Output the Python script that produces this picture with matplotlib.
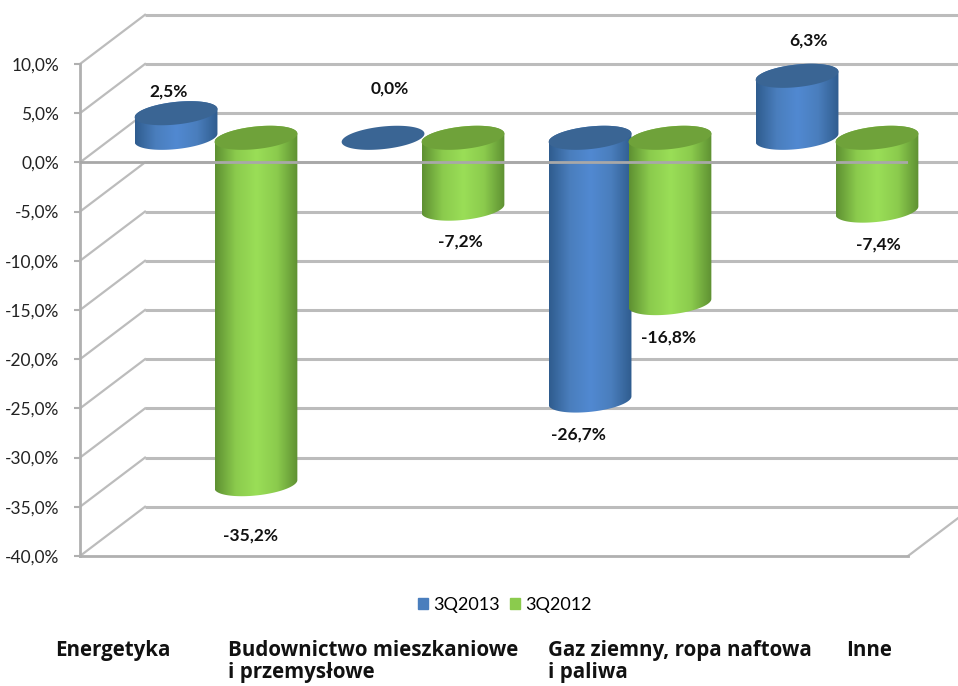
import numpy as np
from matplotlib import pyplot as plt
from matplotlib.patches import Patch, Polygon
from matplotlib.colors import LinearSegmentedColormap

plt.rcParams['font.family'] = ['Lato', 'DejaVu Sans']

categories = ["Energetyka", "Budownictwo mieszkaniowe\ni przemysłowe",
              "Gaz ziemny, ropa naftowa\ni paliwa", "Inne"]
series_names = ["3Q2013", "3Q2012"]
values_2013 = [2.5, 0.0, -26.7, 6.3]  # %
values_2012 = [-35.2, -7.2, -16.8, -7.4]  # %
y_ticks = [10, 5, 0, -5, -10, -15, -20, -25, -30, -35, -40]

# pixel spots of the free floating texts
label_px_2013 = [(169, 92), (390, 89), (578, 435), (808, 41)]
label_px_2012 = [(250, 536), (460, 242), (668, 338), (878, 245)]
category_px = [(55, 640), (228, 640), (548, 640), (846, 640)]

W, H = 958, 686
DEPTH_X, DEPTH_Y = 0.314, 5.0  # back wall shift in data units
BAR_R = 0.2
ELL_A, ELL_B = 0.42, 1.15  # tilt and height of the cylinder caps
OFFSET = 0.193

blue_map = LinearSegmentedColormap.from_list("b", ["#2f5c8e", "#4a7ebd", "#5189d1", "#4a7ebd", "#2f5c8e"])
green_map = LinearSegmentedColormap.from_list("g", ["#5e9032", "#8bcb4d", "#9ade57", "#8bcb4d", "#5e9032"])
BLUE_TOP, GREEN_TOP = "#3a6594", "#6fa23a"
GRID = "#bcbcbc"

fig = plt.figure(figsize=(W / 100, H / 100), dpi=100)
ax = fig.add_axes([80 / W, 1 - 556 / H, 828 / W, 492 / H])
ax.set_xlim(-0.5, 3.5)
ax.set_ylim(-40, 10)
ax.patch.set_visible(False)


def cap(cx, cy, t):
    # right end of the cap is higher than the left end
    return cx + BAR_R * np.cos(t), cy + ELL_A * np.cos(t) + ELL_B * np.sin(t)


def cylinder(x, value, cmap, top_color):
    # the bars stand half way into the depth of the chart
    cx = x + DEPTH_X / 2
    base = DEPTH_Y / 2
    end = base + value
    top, bottom = max(base, end), min(base, end)
    if value != 0:
        t = np.linspace(0, np.pi, 60)
        xb, yb = cap(cx, bottom, -t)
        xt, yt = cap(cx, top, t)
        pts = np.concatenate([np.column_stack([xb, yb]), np.column_stack([xt[::-1], yt[::-1]])])
        body = Polygon(pts, closed=True, fc="none", ec="none", clip_on=False)
        ax.add_patch(body)
        grad = np.linspace(0, 1, 256).reshape(1, -1)
        im = ax.imshow(grad, cmap=cmap, aspect="auto", zorder=3,
                       extent=[cx - BAR_R, cx + BAR_R, bottom - 3, top + 3])
        im.set_clip_box(fig.bbox)
        im.set_clip_path(body)
    t = np.linspace(0, 2 * np.pi, 120)
    xc, yc = cap(cx, top, t)
    ax.add_patch(Polygon(np.column_stack([xc, yc]), closed=True, fc=top_color, ec="none",
                         clip_on=False, zorder=3))


# walls and floor
for v in y_ticks:
    ax.plot([-0.5 + DEPTH_X, 3.5 + DEPTH_X], [v + DEPTH_Y, v + DEPTH_Y], color=GRID, lw=2.2,
            clip_on=False, zorder=1, solid_capstyle="butt")
    ax.plot([-0.5, -0.5 + DEPTH_X], [v, v + DEPTH_Y], color=GRID, lw=1.6, clip_on=False, zorder=1)
ax.plot([3.5, 3.5 + DEPTH_X], [-40, -40 + DEPTH_Y], color=GRID, lw=1.6, clip_on=False, zorder=1)

for i in range(len(categories)):
    cylinder(i - OFFSET, values_2013[i], blue_map, BLUE_TOP)
    cylinder(i + OFFSET, values_2012[i], green_map, GREEN_TOP)

ax.set_xlim(-0.5, 3.5)
ax.set_ylim(-40, 10)

# zero line and floor edge sit in front of the bars
ax.axhline(0, color="#a8a8a8", lw=2, zorder=4)
for side in ["top", "right"]:
    ax.spines[side].set_visible(False)
for side in ["left", "bottom"]:
    ax.spines[side].set_color("#b0b0b0")
    ax.spines[side].set_linewidth(2)
ax.set_xticks([])
ax.set_yticks(y_ticks)
ax.set_yticklabels([f"{v:.1f}%".replace(".", ",") for v in y_ticks], fontsize=12.5, color="#222222",
                   va="center_baseline")
ax.tick_params(axis="y", length=4, width=1.5, color="#b0b0b0", pad=11)

for vals, spots in [(values_2013, label_px_2013), (values_2012, label_px_2012)]:
    for v, (px, py) in zip(vals, spots):
        fig.text(px / W, 1 - py / H, f"{v:.1f}%".replace(".", ","), ha="center", va="center",
                 fontsize=12.5, fontweight="bold", color="#111111")

for name, (px, py) in zip(categories, category_px):
    fig.text(px / W, 1 - py / H, name, ha="left", va="top", fontsize=14.8, family="Open Sans",
             fontweight="bold", color="#111111", linespacing=1.05)

handles = [Patch(color="#4a7ebd"), Patch(color="#8bcb4d")]
fig.legend(handles, series_names, loc="center", bbox_to_anchor=(505 / W, 1 - 605 / H), ncol=2,
           frameon=False, fontsize=13, handlelength=0.55, handleheight=0.55,
           handletextpad=0.3, columnspacing=0.55)

fig.savefig("out.png", dpi=100)
